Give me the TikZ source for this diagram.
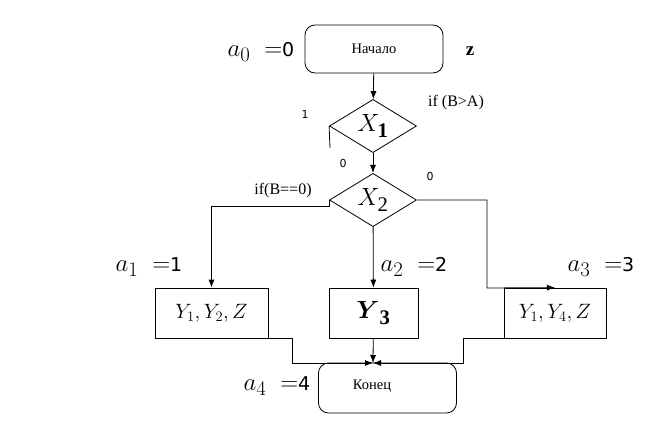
\documentclass[tikz,border=0pt]{standalone}
\usepackage{fontspec}
\setmainfont{Liberation Serif}
\setsansfont{DejaVu Sans}
\usepackage{amsmath}
\usepackage{amssymb}
\usepackage{tikz}
\usetikzlibrary{shapes.geometric, arrows.meta}

\newcommand{\stateval}[2]{{\fontsize{24.88}{28}\selectfont$a_{#1}\;=$}{\sffamily\fontsize{19}{22}\selectfont #2}}

\tikzset{
  terminal/.style={draw, rounded corners=10pt, minimum width=138pt, minimum height=48pt, inner sep=0pt, font=\fontsize{14.5}{16}\selectfont},
  decision/.style={draw, diamond, minimum width=87pt, minimum height=49pt, inner sep=0pt, font=\fontsize{24.88}{26}\selectfont},
  action/.style={draw, minimum height=50pt, inner sep=0pt, font=\fontsize{20.74}{24}\selectfont},
  biglabel/.style={inner sep=0pt},
  smalllabel/.style={font=\fontsize{16}{18}\selectfont},
  tinylabel/.style={font=\sffamily\fontsize{11}{13}\selectfont},
}

\begin{document}
\begin{tikzpicture}[x=1pt, y=-1pt, >={Latex[length=8pt,width=6pt]}, thick]
    \useasboundingbox (0,0) rectangle (664,425);
    % blocks
    \node[terminal] (start) at (374,49) {Начало};
    \node[decision] (x1) at (373,126) {$X_{\mathbf{1}}$};
    \node[decision] (x2) at (373,200) {$X_{\mathrm{2}}$};
    \node[action, minimum width=113pt] (b1) at (211.5,313) {$Y_1,Y_2,Z$};
    \node[action, minimum width=89pt, font=\fontsize{24.88}{26}\selectfont] (b2) at (373.5,313) {$\boldsymbol{Y}_{\mathbf{3}}$};
    \node[action, minimum width=102pt] (b3) at (555,313) {$Y_1,Y_4,Z$};
    \node[terminal, minimum height=50pt] (finish) at (387.5,388) {};
    \node[font=\fontsize{14.5}{16}\selectfont] (finishtext) at (372,386) {Конец};
    % labels
    \node[biglabel] (a0) at (261,52) {\stateval{0}{0}};
    \node[font=\bfseries\fontsize{19}{21}\selectfont] (z) at (470,51) {z};
    \node[smalllabel] (ifba) at (456,103) {if (B>A)};
    \node[tinylabel] (one) at (305,114) {1};
    \node[tinylabel] (zeroa) at (343,163) {0};
    \node[tinylabel] (zerob) at (430,176) {0};
    \node[smalllabel] (ifb0) at (283,191) {if(B==0)};
    \node[biglabel] (a1) at (149,267) {\stateval{1}{1}};
    \node[biglabel] (a2) at (414,267) {\stateval{2}{2}};
    \node[biglabel] (a3) at (601,267) {\stateval{3}{3}};
    \node[biglabel] (a4) at (277,386) {\stateval{4}{4}};
    % connectors
    \coordinate (stub) at (330,148);
    \coordinate (r1) at (487,288);
    \coordinate (merge) at (373,363);
    \draw[->] (start) -- (x1);
    \draw (x1.west) -- (stub);
    \draw[->] (x1) -- (x2);
    \draw[->] (x2.west) -- ++(0,6) -| (b1.north);
    \draw[->] (x2) -- (b2);
    \draw[->] (x2.east) -| (r1) -- (b3.north);
    \draw[->] (b1.south east) -- ++(24,0) |- (merge);
    \draw[->] (b2) -- (merge);
    \draw[->] (b3.south west) -- ++(-40,0) |- (merge);
\end{tikzpicture}
\end{document}
